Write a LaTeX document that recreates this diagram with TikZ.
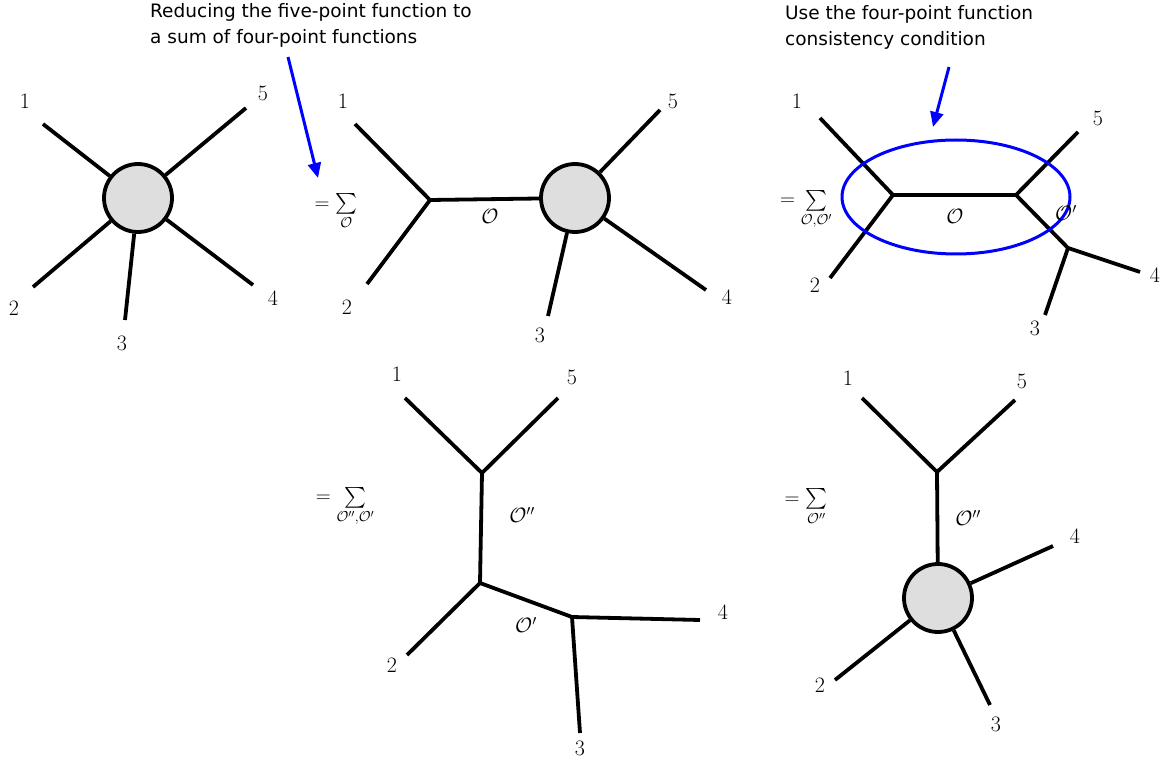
\documentclass[tikz,border=0pt]{standalone}
\usepackage{amsmath}
\usepackage{fontspec}
\newfontfamily\annfont{DejaVu Sans}
\usetikzlibrary{arrows.meta,shapes.geometric}
\begin{document}
\begin{tikzpicture}[x=1pt,y=-1pt,
  leg/.style={line width=3.8pt},
  blob/.style={circle,draw,line width=3.8pt,fill=black!13,minimum size=68pt,inner sep=0pt},
  num/.style={font=\fontsize{22}{26}\selectfont,inner sep=0pt},
  opl/.style={font=\fontsize{21}{24}\selectfont,inner sep=0pt},
  sumlbl/.style={font=\fontsize{21}{24}\selectfont,inner sep=0pt},
  ann/.style={font=\annfont\fontsize{18.5}{26}\selectfont,align=left,anchor=north west,inner sep=0pt},
  barrow/.style={draw=blue,line width=3pt,-{Triangle[length=15pt,width=13pt]}},
  ring/.style={draw=blue,line width=3pt}
]
\useasboundingbox (0,0) rectangle (1163,759);

% annotations
\node[ann] (t1) at (150,3) {Reducing the five-point function to\\a sum of four-point functions};
\node[ann] (t2) at (785,5) {Use the four-point function\\consistency condition};
\coordinate (a1s) at (288,57); \coordinate (a1e) at (318,178);
\coordinate (a2s) at (949,67); \coordinate (a2e) at (933,127);
\draw[barrow] (a1s) -- (a1e);
\draw[barrow] (a2s) -- (a2e);

% diagram A
\node[blob] (A) at (138,198) {};
\coordinate (A1) at (43,124); \coordinate (A5) at (246,108);
\coordinate (A2) at (33,287); \coordinate (A4) at (253,285);
\coordinate (A3) at (125,320);
\foreach \e in {A1,A2,A3,A4,A5} \draw[leg] (A) -- (\e);
\node[num] (lA1) at (25,101) {1};
\node[num] (lA5) at (263,93) {5};
\node[num] (lA2) at (14,308) {2};
\node[num] (lA4) at (273,298) {4};
\node[num] (lA3) at (122,343) {3};

% diagram B
\node[sumlbl] (sB) at (336,212) {$=\sum\limits_{\mathcal{O}}$};
\coordinate (B0) at (430,200);
\node[blob] (B) at (575,198) {};
\coordinate (B1) at (355,124); \coordinate (B2) at (367,284);
\coordinate (B5) at (660,110); \coordinate (B4) at (706,290);
\coordinate (B3) at (548,316);
\draw[leg] (B0) -- (B1);
\draw[leg] (B0) -- (B2);
\draw[leg] (B0) -- (B);
\foreach \e in {B3,B4,B5} \draw[leg] (B) -- (\e);
\node[opl] (oB) at (490,216) {$\mathcal{O}$};
\node[num] (lB1) at (343,101) {1};
\node[num] (lB2) at (347,307) {2};
\node[num] (lB5) at (673,101) {5};
\node[num] (lB4) at (727,297) {4};
\node[num] (lB3) at (540,335) {3};

% diagram C
\node[sumlbl] (sC) at (806,210) {$=\sum\limits_{\mathcal{O},\mathcal{O}'}$};
\coordinate (C0) at (893,195); \coordinate (Cb) at (1016,195); \coordinate (Cc) at (1068,248);
\coordinate (C1) at (820,118); \coordinate (C2) at (830,278);
\coordinate (C5) at (1078,132); \coordinate (C4) at (1140,272);
\coordinate (C3) at (1045,315);
\draw[leg] (C0) -- (C1);
\draw[leg] (C0) -- (C2);
\draw[leg] (C0) -- (Cb);
\draw[leg] (Cb) -- (C5);
\draw[leg] (Cb) -- (Cc);
\draw[leg] (Cc) -- (C4);
\draw[leg] (Cc) -- (C3);
\node[ring, ellipse, minimum width=228pt, minimum height=114pt, inner sep=0pt] (ell) at (956,197) {};
\node[opl] (oC) at (955,216) {$\mathcal{O}$};
\node[opl] (oC2) at (1066,213) {$\mathcal{O}'$};
\node[num] (lC1) at (797,101) {1};
\node[num] (lC2) at (815,285) {2};
\node[num] (lC5) at (1098,118) {5};
\node[num] (lC4) at (1155,275) {4};
\node[num] (lC3) at (1035,328) {3};

% diagram D
\node[sumlbl] (sD) at (345,507) {$=\sum\limits_{\mathcal{O}'',\mathcal{O}'}$};
\coordinate (D0) at (482,473); \coordinate (Db) at (480,583); \coordinate (Dc) at (572,617);
\coordinate (D1) at (405,398); \coordinate (D5) at (558,398);
\coordinate (D2) at (407,655); \coordinate (D4) at (700,620);
\coordinate (D3) at (580,733);
\draw[leg] (D0) -- (D1);
\draw[leg] (D0) -- (D5);
\draw[leg] (D0) -- (Db);
\draw[leg] (Db) -- (D2);
\draw[leg] (Db) -- (Dc);
\draw[leg] (Dc) -- (D4);
\draw[leg] (Dc) -- (D3);
\node[opl] (oD1) at (522,515) {$\mathcal{O}''$};
\node[opl] (oD2) at (526,625) {$\mathcal{O}'$};
\node[num] (lD1) at (397,374) {1};
\node[num] (lD5) at (572,377) {5};
\node[num] (lD2) at (392,665) {2};
\node[num] (lD4) at (723,612) {4};
\node[num] (lD3) at (580,748) {3};

% diagram E
\node[sumlbl] (sE) at (806,507) {$=\sum\limits_{\mathcal{O}''}$};
\coordinate (E0) at (937,472);
\node[blob] (E) at (938,598) {};
\coordinate (E1) at (862,398); \coordinate (E5) at (1015,400);
\coordinate (E4) at (1053,546); \coordinate (E2) at (835,680);
\coordinate (E3) at (990,705);
\draw[leg] (E0) -- (E1);
\draw[leg] (E0) -- (E5);
\draw[leg] (E0) -- (E);
\foreach \e in {E2,E3,E4} \draw[leg] (E) -- (\e);
\node[opl] (oE) at (968,518) {$\mathcal{O}''$};
\node[num] (lE1) at (848,378) {1};
\node[num] (lE5) at (1022,381) {5};
\node[num] (lE4) at (1075,536) {4};
\node[num] (lE2) at (820,685) {2};
\node[num] (lE3) at (996,724) {3};
\end{tikzpicture}
\end{document}
